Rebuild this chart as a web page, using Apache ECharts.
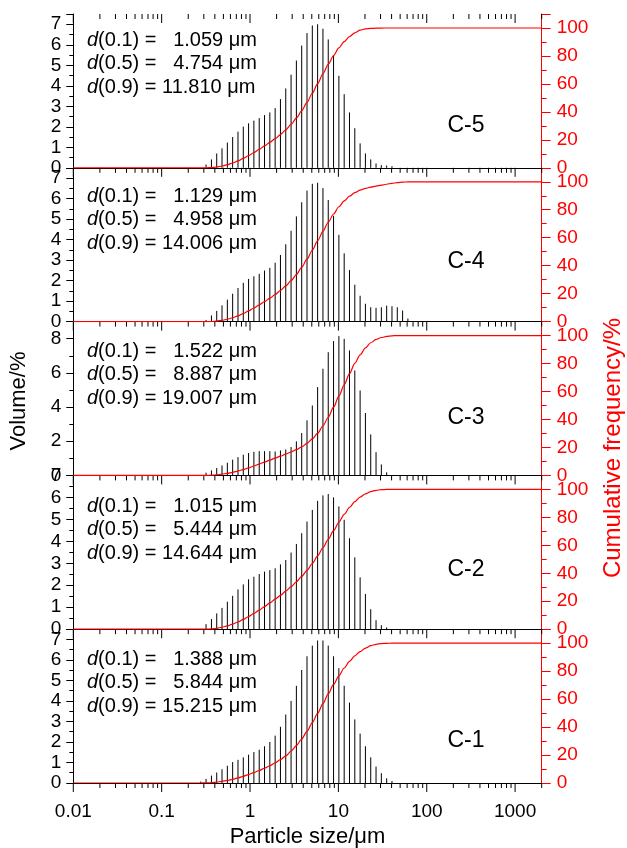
<!DOCTYPE html>
<html><head><meta charset="utf-8">
<script src="https://cdn.jsdelivr.net/npm/echarts@6/dist/echarts.min.js"></script>
<style>html,body{margin:0;padding:0;background:#fff;}#c{width:627px;height:848px;}</style>
</head><body><div id="c"></div>
<script>
// ---- data ----
const SIZES = [0.277,0.318,0.366,0.420,0.482,0.554,0.636,0.731,0.839,0.963,1.106,1.271,1.459,1.676,1.925,2.210,2.538,2.915,3.347,3.844,4.415,5.070,5.822,6.687,7.679,8.819,10.13,11.63,13.36,15.34,17.62,20.23,23.23,26.68,30.64,35.19,40.41,46.41,53.30,61.21,70.29];
const SAMPLES = ['C-5','C-4','C-3','C-2','C-1'];
const VOL_C5 = [0,0.16,0.41,0.70,0.95,1.23,1.50,1.76,2.01,2.17,2.30,2.42,2.57,2.70,2.91,3.35,3.87,4.54,5.23,5.96,6.57,6.94,7.00,6.78,6.26,5.47,4.49,3.59,2.70,1.93,1.19,0.70,0.41,0.21,0.13,0.11,0.08,0,0,0,0];
const VOL_C4 = [0,0.08,0.30,0.52,0.79,1.07,1.36,1.64,1.89,2.08,2.21,2.33,2.49,2.62,2.87,3.25,3.77,4.43,5.13,5.82,6.39,6.72,6.77,6.51,5.93,5.16,4.23,3.33,2.51,1.80,1.26,0.87,0.70,0.67,0.70,0.78,0.75,0.70,0.54,0.15,0.03];
const VOL_C3 = [0,0.16,0.29,0.43,0.58,0.74,0.92,1.07,1.21,1.31,1.38,1.42,1.42,1.42,1.40,1.46,1.52,1.66,1.99,2.48,3.22,4.09,5.17,6.24,7.21,7.86,8.15,7.99,7.31,6.14,4.97,3.65,2.40,1.36,0.64,0.18,0,0,0,0,0];
const VOL_C2 = [0,0.23,0.46,0.72,0.97,1.25,1.52,1.81,2.04,2.27,2.39,2.51,2.62,2.69,2.77,2.95,3.15,3.49,3.88,4.37,4.90,5.43,5.84,6.09,6.15,6.00,5.59,4.98,4.14,3.27,2.36,1.60,0.91,0.41,0.18,0.08,0,0,0,0,0];
const VOL_C1 = [0.07,0.20,0.36,0.51,0.67,0.84,1.02,1.13,1.25,1.38,1.51,1.62,1.79,2.00,2.31,2.74,3.34,4.00,4.74,5.51,6.18,6.70,6.95,6.95,6.70,6.18,5.60,4.74,3.92,3.10,2.41,1.79,1.25,0.80,0.48,0.23,0.10,0,0,0,0];
// cumulative frequency (%) read at SIZES
const CUM_C5 = [0,0,0.16,0.57,1.27,2.22,3.45,4.95,6.71,8.72,10.89,13.19,15.61,18.18,20.88,23.79,27.14,31.01,35.55,40.78,46.74,53.31,60.25,67.25,74.03,80.29,85.76,90.25,93.84,96.54,98.47,99.3,99.7,99.85,99.95,100,100,100,100,100,100];
const CUM_C4 = [0,0,0.08,0.38,0.90,1.69,2.76,4.12,5.76,7.65,9.73,11.94,14.27,16.76,19.38,22.25,25.50,29.27,33.70,38.83,44.65,51.04,57.76,64.53,71.04,76.97,82.13,86.36,89.69,92.20,94.00,95.26,96.13,96.87,97.54,98.24,98.9,99.4,99.75,99.95,100];
const CUM_C3 = [0,0,0.16,0.45,0.88,1.46,2.20,3.12,4.19,5.40,6.71,8.09,9.51,10.93,12.35,13.75,15.21,16.73,18.39,20.38,22.86,26.08,30.17,35.34,41.58,48.79,56.65,64.80,72.79,80.10,86.24,91.21,94.86,97.26,98.62,99.4,99.8,100,100,100,100];
const CUM_C2 = [0,0,0.23,0.69,1.41,2.38,3.63,5.15,6.96,9.00,11.27,13.66,16.17,18.79,21.48,24.25,27.20,30.35,33.84,37.72,42.09,46.99,52.42,58.26,64.35,70.50,76.50,82.09,87.07,91.21,94.48,96.84,98.44,99.35,99.76,99.94,100,100,100,100,100];
const CUM_C1 = [0,0.07,0.27,0.63,1.14,1.81,2.65,3.67,4.80,6.05,7.43,8.94,10.56,12.35,14.35,16.66,19.40,22.74,26.74,31.48,36.99,43.17,49.87,56.82,63.77,70.47,76.65,82.25,86.99,90.91,94.01,96.42,98.21,99.2,99.7,99.9,100,100,100,100,100];
const CUM_START = [0.01, 0];
const CUM_END = [2000, 100];
const D10 = [1.059, 1.129, 1.522, 1.015, 1.388];
const D50 = [4.754, 4.958, 8.887, 5.444, 5.844];
const D90 = [11.810, 14.006, 19.007, 14.644, 15.215];
const Y_MAX = [7.5, 7.5, 9, 7, 7.5];
const Y_INTERVAL = [1, 1, 2, 1, 1];
const CUM_MAX = 110, CUM_INTERVAL = 20;
const X_MIN = 0.01, X_MAX = 2000;
const X_TICK_LABELS = ['0.01','0.1','1','10','100','1000'];

const VOLS = [VOL_C5, VOL_C4, VOL_C3, VOL_C2, VOL_C1];
const CUMS = [CUM_C5, CUM_C4, CUM_C3, CUM_C2, CUM_C1];

// ---- layout ----
const FONT = "'Liberation Sans', Arial, Helvetica, sans-serif";
const LEFT = 73.3, WIDTH = 468.4, TOP = 14, PH = 153.8;
const RED = '#ff0000';

// x tick positions (decades and 2..9 multiples)
const X_TICKS = [];
for (let e = -2; e <= 3; e++) for (let m = 1; m <= 9; m++) {
  const v = +(m * Math.pow(10, e)).toPrecision(6);
  if (v <= X_MAX) X_TICKS.push([v, m === 1 ? 1 : 0]);
}

const grid = [], xAxis = [], yAxis = [], series = [], graphic = [];
for (let i = 0; i < 5; i++) {
  const top = TOP + i * PH;
  grid.push({left: LEFT, width: WIDTH, top: top, height: PH});
  xAxis.push({
    gridIndex: i, type: 'log', logBase: 10, min: X_MIN, max: X_MAX,
    axisLine: {show: true, lineStyle: {color: '#000', width: 1}},
    axisTick: {show: false}, splitLine: {show: false}, minorTick: {show: false},
    axisLabel: {show: i === 4, color: '#000', fontSize: 19, fontFamily: FONT, margin: 19,
      showMaxLabel: false,
      formatter: v => { const e = Math.round(Math.log10(v)); return Math.abs(Math.log10(v) - e) < 1e-6 ? (X_TICK_LABELS[e + 2] || '') : ''; }}
  });
  yAxis.push({
    gridIndex: i, type: 'value', min: 0, max: Y_MAX[i], interval: Y_INTERVAL[i], position: 'left',
    axisLine: {show: true, lineStyle: {color: '#000', width: 1}},
    axisTick: {show: true, length: 7, lineStyle: {color: '#000'}},
    minorTick: {show: true, splitNumber: 2, length: 4, lineStyle: {color: '#000'}},
    splitLine: {show: false},
    axisLabel: {color: '#000', fontSize: 19, fontFamily: FONT, margin: 12, showMaxLabel: i === 3, showMinLabel: true}
  });
  yAxis.push({
    gridIndex: i, type: 'value', min: 0, max: CUM_MAX, interval: CUM_INTERVAL, position: 'right',
    axisLine: {show: true, lineStyle: {color: RED, width: 1}},
    axisTick: {show: true, length: 9, lineStyle: {color: RED}},
    minorTick: {show: true, splitNumber: 2, length: 5, lineStyle: {color: RED}},
    splitLine: {show: false},
    axisLabel: {color: RED, fontSize: 19, fontFamily: FONT, margin: 15, showMaxLabel: false, showMinLabel: true}
  });
}
// top border of first panel
xAxis.push({gridIndex: 0, type: 'log', logBase: 10, min: X_MIN, max: X_MAX, position: 'top',
  axisLine: {show: true, lineStyle: {color: '#000', width: 1}}, axisTick: {show: false},
  axisLabel: {show: false}, splitLine: {show: false}});

for (let i = 0; i < 5; i++) {
  const vol = VOLS[i], cum = CUMS[i];
  // volume bars as thin vertical lines
  series.push({
    type: 'custom', xAxisIndex: i, yAxisIndex: 2 * i, clip: false, silent: true,
    data: SIZES.map((s, j) => [s, vol[j]]).filter(d => d[1] > 0),
    renderItem: (params, api) => {
      const p0 = api.coord([api.value(0), 0]);
      const p1 = api.coord([api.value(0), api.value(1)]);
      return {type: 'line', shape: {x1: p0[0], y1: p0[1], x2: p1[0], y2: p1[1]},
        style: {stroke: '#000', lineWidth: 1}};
    }, z: 2
  });
  // cumulative curve
  series.push({
    type: 'line', xAxisIndex: i, yAxisIndex: 2 * i + 1, silent: true,
    data: [CUM_START].concat(SIZES.map((s, j) => [s, cum[j]])).concat([CUM_END]),
    showSymbol: false, symbol: 'none', smooth: 0.3, smoothMonotone: 'x',
    lineStyle: {color: RED, width: 1.2}, z: 4
  });
  // x ticks (major + minor) pointing down from the bottom edge; first panel also from top edge
  const ymax = Y_MAX[i];
  series.push({
    type: 'custom', xAxisIndex: i, yAxisIndex: 2 * i, clip: false, silent: true,
    data: X_TICKS,
    renderItem: (params, api) => {
      const v = api.value(0), major = api.value(1) === 1;
      const len = major ? 9 : 5;
      const pb = api.coord([v, 0]);
      const children = [{type: 'line', shape: {x1: pb[0], y1: pb[1], x2: pb[0], y2: pb[1] + len},
        style: {stroke: '#000', lineWidth: 1}}];
      if (i === 0) {
        const pt = api.coord([v, ymax]);
        children.push({type: 'line', shape: {x1: pt[0], y1: pt[1], x2: pt[0], y2: pt[1] + len},
          style: {stroke: '#000', lineWidth: 1}});
      }
      return {type: 'group', children};
    }, z: 3
  });
}

// annotations
const D_LABELS = ['(0.1)', '(0.5)', '(0.9)'];
const D_FIRST = [40, 196, 351, 506, 659];
const C_Y = [126, 262, 418, 570, 741];
function fmt(v) { const t = v.toFixed(3); return (t.length < 6 ? '  ' : '') + t; }
for (let i = 0; i < 5; i++) {
  const vals = [D10[i], D50[i], D90[i]];
  for (let j = 0; j < 3; j++) {
    graphic.push({type: 'text', x: 87, y: D_FIRST[i] + j * 23.5, silent: true,
      style: {text: '{it|d}' + D_LABELS[j] + ' = ' + fmt(vals[j]) + ' μm', fill: '#000',
        font: '20px ' + FONT, verticalAlign: 'middle',
        rich: {it: {fontStyle: 'italic', fontSize: 20, fontFamily: FONT, fill: '#000'}}}});
  }
  graphic.push({type: 'text', x: 466, y: C_Y[i], silent: true,
    style: {text: SAMPLES[i], fill: '#000', font: '23px ' + FONT, align: 'center', verticalAlign: 'middle'}});
}
graphic.push({type: 'text', x: 19, y: 401, rotation: Math.PI / 2, silent: true,
  style: {text: 'Volume/%', fill: '#000', font: '22px ' + FONT, align: 'center', verticalAlign: 'middle'}});
graphic.push({type: 'text', x: 613, y: 448, rotation: Math.PI / 2, silent: true,
  style: {text: 'Cumulative frequency/%', fill: RED, font: '24px ' + FONT, align: 'center', verticalAlign: 'middle'}});
graphic.push({type: 'text', x: 307.5, y: 837, silent: true,
  style: {text: 'Particle size/μm', fill: '#000', font: '22px ' + FONT, align: 'center', verticalAlign: 'middle'}});

const chart = echarts.init(document.getElementById('c'), null, {renderer: 'canvas'});
chart.setOption({animation: false, backgroundColor: '#fff', grid, xAxis, yAxis, series, graphic});
</script></body></html>
